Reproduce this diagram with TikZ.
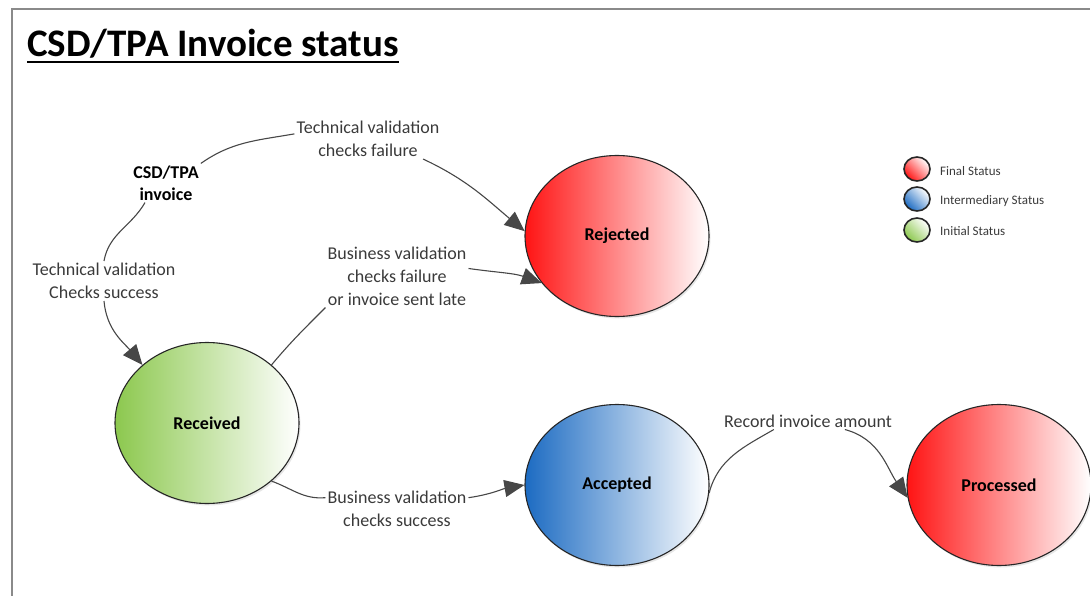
\documentclass[tikz,border=0pt]{standalone}
\usepackage{fontspec}
\setmainfont{Carlito}
\usetikzlibrary{arrows.meta,calc,shapes.geometric,shadows}
\definecolor{linegray}{HTML}{474747}
\definecolor{txtgray}{HTML}{3A3A3A}
\definecolor{stred}{HTML}{FF1414}
\definecolor{stblue}{HTML}{1C6BC2}
\definecolor{stgreen}{HTML}{8CC84E}
\definecolor{framegray}{HTML}{8A8A8A}
\begin{document}
\begin{tikzpicture}[x=1pt,y=-1pt,
 statenode/.style={ellipse,draw=black!85,line width=1.1pt,minimum width=184pt,minimum height=161pt,inner sep=0pt,font=\fontsize{18}{22}\selectfont\bfseries,drop shadow={opacity=0.2,shadow xshift=1.5pt,shadow yshift=-2pt}},
 finalst/.style={statenode,left color=stred,right color=white},
 interst/.style={statenode,left color=stblue,right color=white},
 initst/.style={statenode,left color=stgreen,right color=white},
 lbl/.style={align=center,font=\fontsize{18}{23}\selectfont,text=txtgray,inner sep=2pt},
 conn/.style={draw=linegray,line width=1.1pt},
 arr/.style={conn,-{Triangle[length=20pt,width=17pt]}},
 legdot/.style={ellipse,draw=black!85,line width=1.6pt,minimum width=26pt,minimum height=24pt,inner sep=0pt},
 legtxt/.style={anchor=west,font=\fontsize{13}{15}\selectfont,text=txtgray,inner sep=0pt}
]
\useasboundingbox (0,0) rectangle (1090,596);
\draw[framegray,line width=2.5pt] (12,596) -- (12,9) -- (1090,9);

\node[anchor=base west,inner sep=0pt,font=\fontsize{39}{46}\selectfont\bfseries] (title) at (27,57) {CSD/TPA Invoice status};
\draw[line width=2.5pt] ([yshift=-5pt]title.base west) -- ([yshift=-5pt]title.base east);

\node[finalst] (rej) at (617,236) {Rejected};
\node[initst] (rec) at (207,423) {Received};
\node[interst] (acc) at (617,485) {Accepted};
\node[finalst] (pro) at (999,485) {Processed};

\node[lbl,font=\fontsize{18}{22}\selectfont\bfseries,text=black] (inv) at (166,183) {CSD/TPA\\invoice};
\node[lbl] (tvf) at (368,139) {Technical validation\\checks failure};
\node[lbl] (tvs) at (104,281) {Technical validation\\Checks success};
\node[lbl] (bvf) at (397,276) {Business validation\\checks failure\\or invoice sent late};
\node[lbl] (bvs) at (397,509) {Business validation\\checks success};
\node[lbl] (ria) at (808,421) {Record invoice amount};

\draw[conn] (inv.north east) to[out=35,in=190] (tvf.176);
\draw[arr] (tvf.340) to[out=-25,in=140] (rej.177);
\draw[conn] (inv.223) to[out=240,in=80] (tvs.north);
\draw[arr] (tvs.south) to[out=-85,in=130] (rec.138);
\draw[conn] (rec.42) to[out=50,in=225] (bvf.south west);
\draw[arr] (bvf.6) to[out=-8,in=160] (rej.212);
\draw[conn] (rec.318) to[out=-20,in=185] (bvs.171);
\draw[arr] (bvs.9) to[out=8,in=190] (acc.180);
\draw[conn] (acc.355) to[out=75,in=210] (ria.194);
\draw[arr] (ria.347) to[out=-15,in=125] (pro.188);

\node[legdot,bottom color=stred,top color=white,shading angle=-45] (l1) at (917,169) {};
\node[legdot,bottom color=stblue,top color=white,shading angle=-45] (l2) at (917,199) {};
\node[legdot,bottom color=stgreen,top color=white,shading angle=-45] (l3) at (917,230) {};
\node[legtxt] (t1) at (940,171) {Final Status};
\node[legtxt] (t2) at (940,201) {Intermediary Status};
\node[legtxt] (t3) at (940,231) {Initial Status};
\end{tikzpicture}
\end{document}
